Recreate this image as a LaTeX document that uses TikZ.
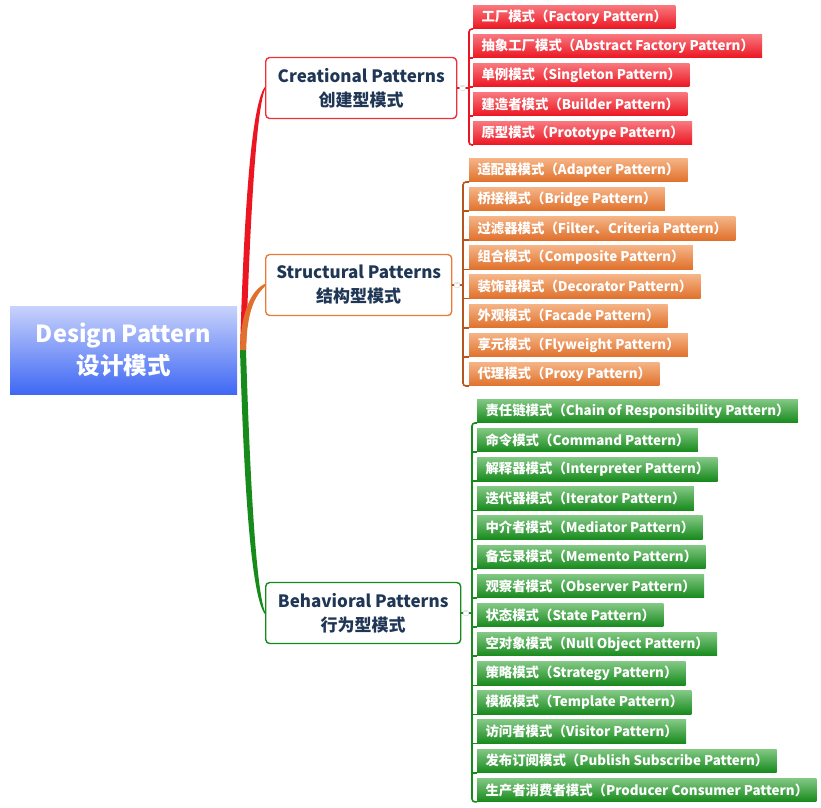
\documentclass[tikz,border=0pt]{standalone}
\usepackage{fontspec}
\setmainfont{Noto Sans CJK SC}
\usepackage{tikz}

\definecolor{rootlight}{HTML}{C8D2FB}
\definecolor{rootdark}{HTML}{3F68F4}
\definecolor{navy}{HTML}{1F3655}
\definecolor{crered}{HTML}{EC1622}
\definecolor{crelight}{HTML}{F8787E}
\definecolor{creline}{HTML}{F0303A}
\definecolor{strorange}{HTML}{E0712C}
\definecolor{strlight}{HTML}{F5B486}
\definecolor{strline}{HTML}{B5561F}
\definecolor{strborder}{HTML}{E87C38}
\definecolor{behgreen}{HTML}{178A1C}
\definecolor{behlight}{HTML}{82C884}

\tikzset{
  rootbox/.style={top color=rootlight, bottom color=rootdark, text=white,
    align=center, minimum width=227pt, minimum height=88pt,
    font=\bfseries\fontsize{23.5}{32}\selectfont},
  branch/.style={draw, line width=1.4pt, rounded corners=4pt, fill=white,
    anchor=west, align=center, minimum height=61pt, text=navy,
    font=\bfseries\fontsize{17}{24}\selectfont},
  leaf/.style={anchor=west, minimum height=23.5pt, inner xsep=8.3pt, inner ysep=0pt,
    text=white, font=\bfseries\fontsize{13.4}{15}\selectfont},
  creleaf/.style={leaf, top color=crelight, bottom color=crered},
  strleaf/.style={leaf, top color=strlight, bottom color=strorange},
  behleaf/.style={leaf, top color=behlight, bottom color=behgreen},
  bracket/.style={line width=1.6pt, rounded corners=3pt},
  fold/.style={circle, draw=gray!35, fill=white, inner sep=0pt, minimum size=6pt,
    font=\fontsize{6}{6}\selectfont, text=gray!60}
}

\begin{document}
\begin{tikzpicture}[x=1pt, y=-1pt]
  \useasboundingbox (0,0) rectangle (821,807);

  % centre and the three families
  \node (root) [rootbox] at (123.5,350) {Design Pattern\\设计模式};
  \coordinate (hub) at (243,350);
  \node (cre) [branch, draw=creline, minimum width=191pt] at (265,88) {Creational Patterns\\创建型模式};
  \node (str) [branch, draw=strborder, minimum width=186pt] at (265,285) {Structural Patterns\\结构型模式};
  \node (beh) [branch, draw=behgreen, minimum width=195pt] at (265,613) {Behavioral Patterns\\行为型模式};

  % tapered links from the centre
  \fill [crered] ([xshift=-3pt]hub) .. controls +(3,-100) and +(-16,20) .. ([yshift=1.2pt]cre.west)
    -- ([yshift=-1.2pt]cre.west) .. controls +(-10,24) and +(3,-100) .. ([xshift=3pt]hub) -- cycle;
  \fill [behgreen] ([xshift=-3pt]hub) .. controls +(3,100) and +(-16,-20) .. ([yshift=-1.2pt]beh.west)
    -- ([yshift=1.2pt]beh.west) .. controls +(-10,-24) and +(3,100) .. ([xshift=3pt]hub) -- cycle;
  \fill [strorange] ([xshift=-3pt]hub) .. controls +(1,-40) and +(-13,6) .. ([yshift=1.2pt]str.west)
    -- ([yshift=-1.2pt]str.west) .. controls +(-10,10) and +(1,-40) .. ([xshift=3pt]hub) -- cycle;

  % creational
  \foreach \txt [count=\n] in {
      工厂模式（Factory Pattern）,
      抽象工厂模式（Abstract Factory Pattern）,
      单例模式（Singleton Pattern）,
      建造者模式（Builder Pattern）,
      原型模式（Prototype Pattern）}
    \node (c\n) [creleaf] at (473,{17+29*(\n-1)}) {\txt};
  \coordinate (cbr) at (469,88);
  \draw [crered, bracket] (cre.east) -- (cbr);
  \draw [crered, bracket] (c1.south west) -| (cbr) |- (c5.south west);
  \foreach \n in {2,...,4}
    \draw [crered, bracket] (cbr |- c\n.south west) -- (c\n.south west);
  \node (cfold) [fold] at (462.5,88) {−};

  % structural
  \foreach \txt [count=\n] in {
      适配器模式（Adapter Pattern）,
      桥接模式（Bridge Pattern）,
      过滤器模式（Filter、Criteria Pattern）,
      组合模式（Composite Pattern）,
      装饰器模式（Decorator Pattern）,
      外观模式（Facade Pattern）,
      享元模式（Flyweight Pattern）,
      代理模式（Proxy Pattern）}
    \node (s\n) [strleaf] at (469,{170+29.15*(\n-1)}) {\txt};
  \coordinate (sbr) at (463,285);
  \draw [strline, bracket] (str.east) -- (sbr);
  \draw [strline, bracket] (s1.south west) -| (sbr) |- (s8.south west);
  \foreach \n in {2,...,7}
    \draw [strline, bracket] (sbr |- s\n.south west) -- (s\n.south west);
  \node (sfold) [fold] at (457,285) {−};

  % behavioral
  \foreach \txt [count=\n] in {
      责任链模式（Chain of Responsibility Pattern）,
      命令模式（Command Pattern）,
      解释器模式（Interpreter Pattern）,
      迭代器模式（Iterator Pattern）,
      中介者模式（Mediator Pattern）,
      备忘录模式（Memento Pattern）,
      观察者模式（Observer Pattern）,
      状态模式（State Pattern）,
      空对象模式（Null Object Pattern）,
      策略模式（Strategy Pattern）,
      模板模式（Template Pattern）,
      访问者模式（Visitor Pattern）,
      发布订阅模式（Publish Subscribe Pattern）,
      生产者消费者模式（Producer Consumer Pattern）}
    \node (b\n) [behleaf] at (477,{411+29.15*(\n-1)}) {\txt};
  \coordinate (bbr) at (472,613);
  \draw [behgreen, bracket] (beh.east) -- (bbr);
  \draw [behgreen, bracket] (b1.south west) -| (bbr) |- (b14.south west);
  \foreach \n in {2,...,13}
    \draw [behgreen, bracket] (bbr |- b\n.south west) -- (b\n.south west);
  \node (bfold) [fold] at (466,613) {−};
\end{tikzpicture}
\end{document}
